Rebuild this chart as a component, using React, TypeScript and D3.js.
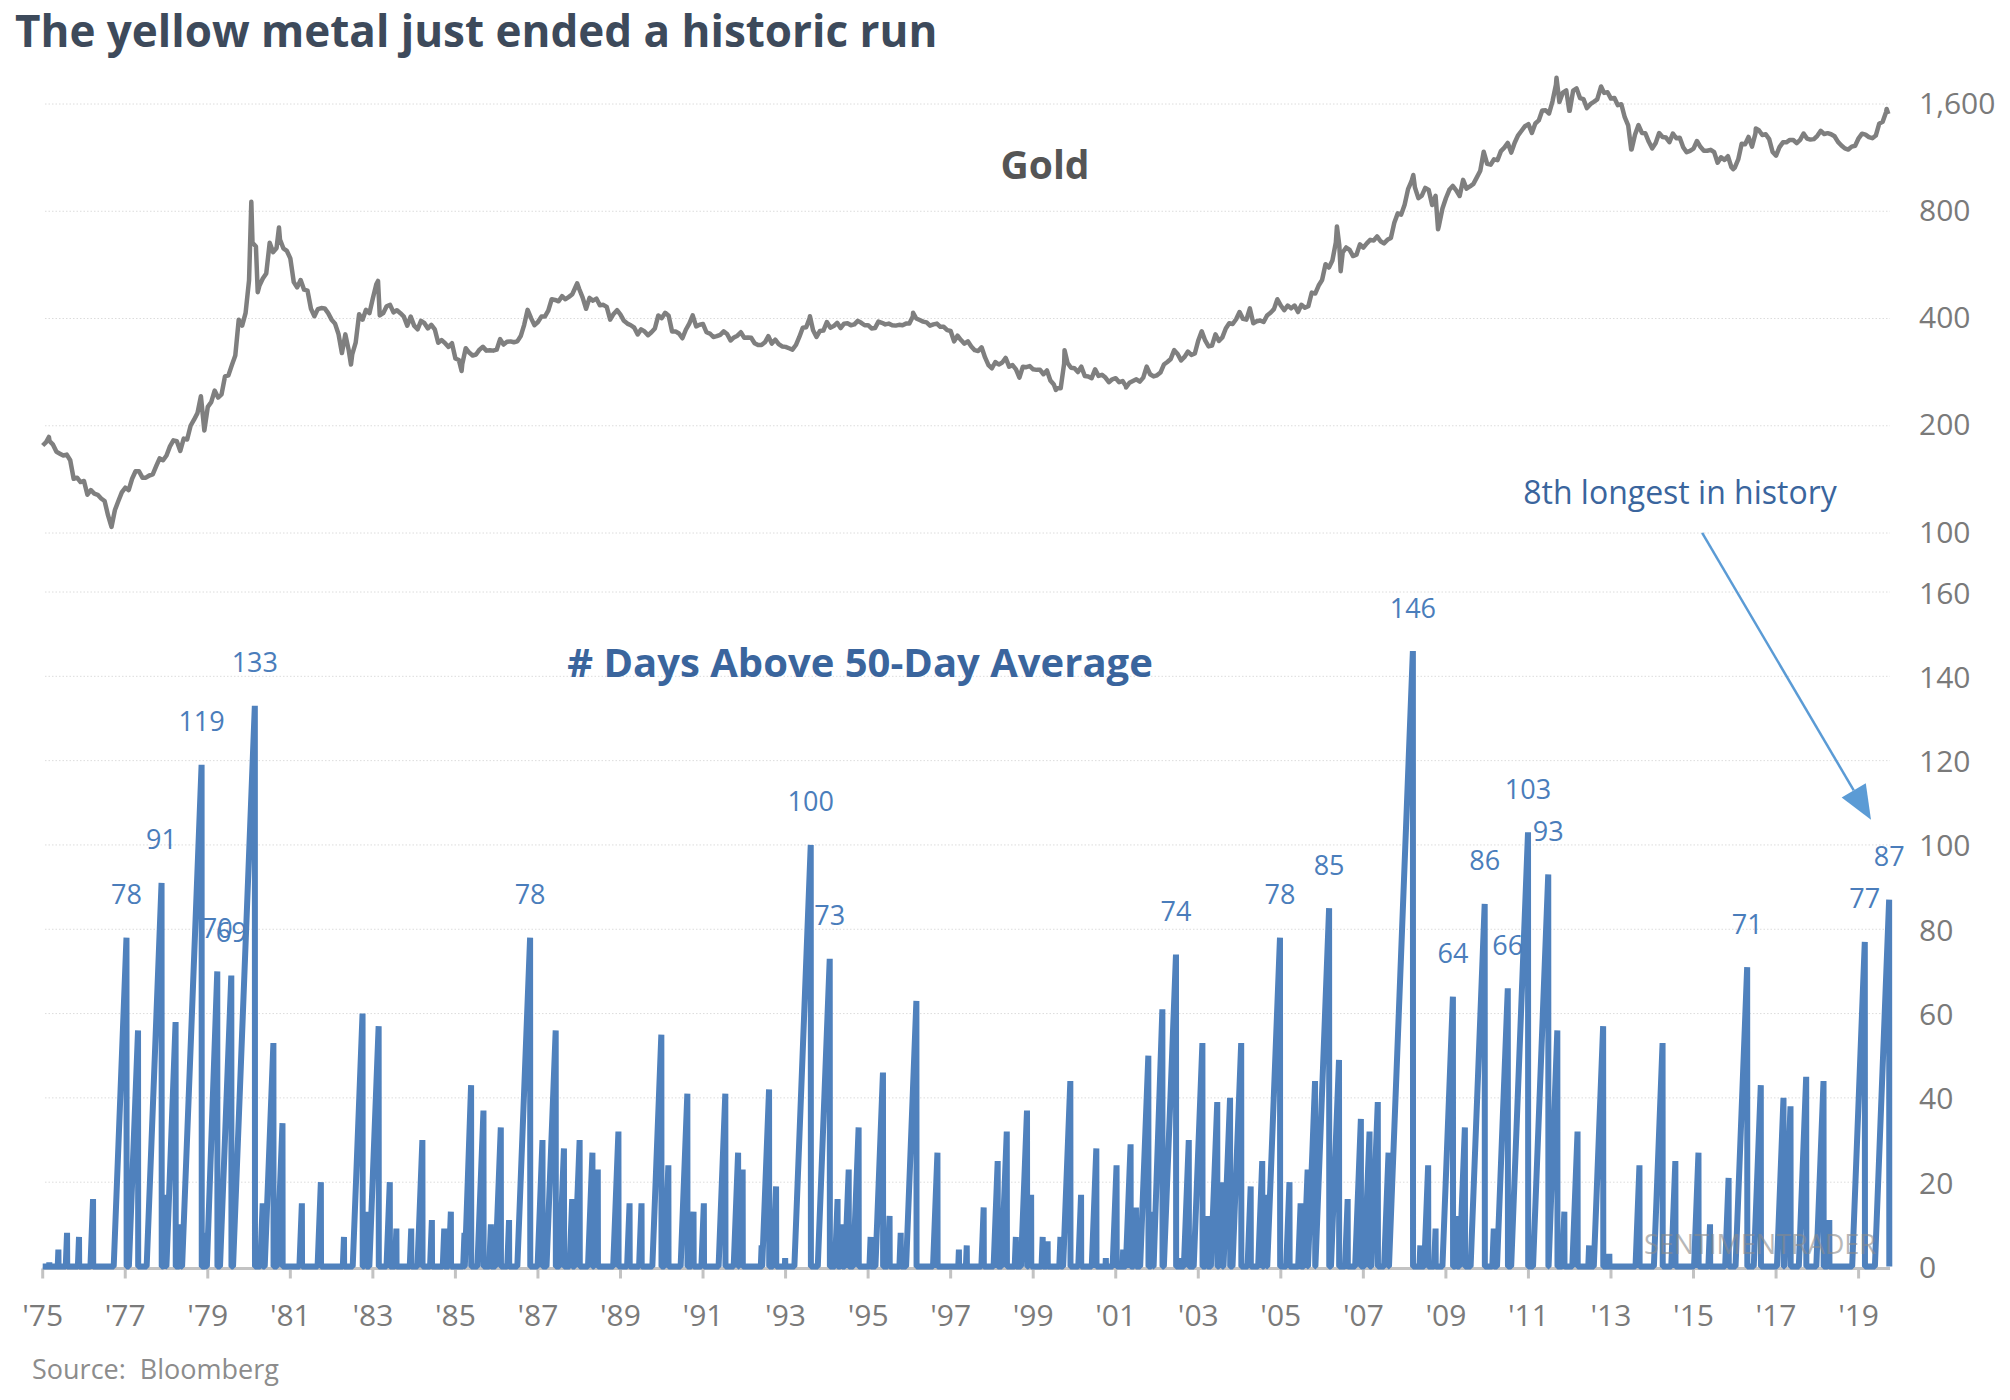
import React from "react";
import * as d3 from "d3";

const W = 2010;
const H = 1400;

// ---------- DATA ----------
const yearTicks = d3.range(1975, 2020, 2);
const goldTicks = [100, 200, 400, 800, 1600];
const daysTicks = [0, 20, 40, 60, 80, 100, 120, 140, 160];

// Gold, month-end values (row = year from 1975)
const goldByYear: number[][] = [
  [180, 181, 177, 169, 167, 165, 166, 160, 142, 143, 139, 140],
  [128, 132, 129, 128, 125, 123, 112, 104, 116, 123, 130, 134],
  [132, 142, 149, 149, 143, 143, 145, 146, 154, 162, 160, 165],
  [175, 182, 181, 170, 184, 183, 200, 208, 217, 242, 194, 226],
  [233, 251, 240, 245, 275, 277, 296, 315, 397, 382, 415, 512],
  [653, 637, 494, 518, 535, 653, 614, 631, 666, 629, 619, 590],
  [506, 489, 513, 482, 479, 426, 406, 425, 428, 427, 414, 397],
  [387, 362, 320, 361, 325, 317, 342, 411, 397, 423, 414, 456],
  [499, 408, 414, 433, 437, 416, 422, 414, 405, 382, 405, 382],
  [373, 394, 388, 375, 384, 373, 342, 348, 341, 333, 341, 309],
  [306, 298, 330, 321, 315, 317, 327, 333, 325, 326, 325, 327],
  [350, 338, 344, 345, 343, 345, 357, 384, 423, 401, 383, 391],
  [405, 405, 421, 453, 451, 447, 462, 453, 460, 468, 492, 484],
  [458, 426, 457, 449, 455, 436, 437, 431, 397, 412, 422, 410],
  [394, 387, 383, 377, 361, 373, 368, 359, 366, 375, 408, 401],
  [415, 407, 368, 368, 363, 352, 372, 387, 408, 380, 384, 386],
  [366, 363, 355, 357, 360, 368, 362, 347, 354, 358, 366, 353],
  [354, 353, 341, 337, 337, 343, 357, 340, 349, 339, 334, 333],
  [330, 327, 337, 355, 377, 378, 401, 371, 355, 369, 370, 391],
  [377, 381, 389, 376, 387, 388, 383, 385, 394, 389, 383, 383],
  [375, 376, 392, 389, 385, 387, 383, 382, 384, 383, 387, 387],
  [405, 400, 396, 392, 390, 382, 385, 387, 379, 379, 371, 369],
  [345, 358, 348, 340, 345, 334, 326, 324, 332, 311, 296, 290],
  [302, 297, 301, 310, 293, 296, 288, 273, 293, 292, 294, 288],
  [287, 287, 279, 286, 268, 261, 255, 255, 299, 300, 291, 290],
  [283, 293, 276, 275, 272, 288, 276, 278, 273, 265, 270, 272],
  [265, 267, 258, 264, 267, 270, 266, 273, 293, 279, 275, 277],
  [282, 297, 302, 308, 326, 318, 305, 312, 323, 316, 319, 347],
  [368, 347, 334, 336, 361, 346, 354, 375, 388, 386, 398, 417],
  [399, 397, 427, 388, 393, 395, 391, 408, 415, 425, 453, 435],
  [422, 435, 427, 435, 417, 437, 429, 433, 473, 470, 495, 513],
  [568, 556, 582, 654, 643, 613, 633, 623, 599, 604, 646, 632],
  [650, 665, 662, 680, 659, 650, 665, 673, 743, 789, 783, 834],
  [923, 971, 933, 871, 885, 930, 918, 833, 884, 730, 814, 870],
  [919, 942, 916, 883, 980, 926, 939, 955, 996, 1040, 1175, 1087],
  [1081, 1119, 1113, 1180, 1207, 1244, 1169, 1246, 1307, 1346, 1386, 1405],
  [1327, 1411, 1439, 1535, 1536, 1505, 1628, 1813, 1620, 1722, 1746, 1531],
  [1744, 1770, 1662, 1651, 1558, 1598, 1622, 1648, 1776, 1719, 1726, 1657],
  [1664, 1588, 1598, 1469, 1394, 1192, 1314, 1396, 1327, 1324, 1253, 1201],
  [1244, 1326, 1292, 1288, 1250, 1322, 1282, 1287, 1210, 1171, 1182, 1199],
  [1260, 1213, 1183, 1183, 1190, 1172, 1095, 1134, 1115, 1142, 1065, 1061],
  [1118, 1238, 1233, 1293, 1215, 1321, 1351, 1309, 1316, 1275, 1173, 1146],
  [1211, 1249, 1249, 1268, 1268, 1242, 1269, 1322, 1280, 1271, 1275, 1303],
  [1345, 1318, 1325, 1316, 1299, 1253, 1224, 1201, 1192, 1215, 1222, 1282],
  [1321, 1313, 1292, 1283, 1305, 1409, 1427, 1520],
];

// Gold: start point and intra-month extremes [year fraction, price]
const goldExtremes: [number, number][] = [
  [1975.0, 176], [1975.15, 186], [1980.055, 850], [1980.21, 474], [1980.725, 720],
  [1982.47, 297], [1983.125, 510], [1985.15, 285], [1987.95, 502],
  [1993.59, 406], [1996.09, 415], [1999.55, 252], [1999.76, 326], [2001.25, 256],
  [2006.36, 725], [2006.45, 543], [2008.21, 1011], [2008.81, 712],
  [2011.68, 1895], [2011.99, 1531], [2012.76, 1792], [2013.49, 1192],
  [2015.96, 1050], [2016.51, 1366], [2019.68, 1550], [2019.72, 1500],
];

// # days above 50-day average: runs as [year of run end, length]
const daysRuns: [number, number][] = [
  [1975.16, 1], [1975.38, 4], [1975.59, 8], [1975.88, 7], [1976.22, 16],
  [1977.31, 56], [1977.99, 17], [1978.22, 58], [1978.35, 10], [1978.97, 8],
  [1980.33, 15], [1980.59, 53], [1980.81, 34], [1981.28, 15], [1981.74, 20],
  [1982.3, 7], [1982.75, 60], [1982.84, 13], [1983.14, 57], [1983.41, 20],
  [1983.57, 9], [1983.93, 9], [1984.2, 30], [1984.43, 11], [1984.73, 9],
  [1984.89, 13], [1985.22, 8], [1985.38, 43], [1985.68, 37], [1985.86, 10],
  [1986.1, 33], [1986.3, 11], [1987.11, 30], [1987.43, 56], [1987.63, 28],
  [1987.83, 16], [1988.01, 30], [1988.32, 27], [1988.45, 23], [1988.95, 32],
  [1989.22, 15], [1989.51, 15], [1989.99, 55], [1990.16, 24], [1990.62, 41],
  [1990.77, 13], [1991.02, 15], [1991.54, 41], [1991.85, 27], [1991.96, 23],
  [1992.42, 5], [1992.6, 42], [1992.77, 19], [1992.99, 2], [1994.26, 16],
  [1994.37, 10], [1994.53, 23], [1994.77, 33], [1995.06, 7], [1995.36, 46],
  [1995.52, 12], [1995.79, 8], [1996.17, 63], [1996.68, 27], [1997.2, 4],
  [1997.39, 5], [1997.8, 14], [1998.14, 25], [1998.36, 32], [1998.58, 7],
  [1998.85, 37], [1998.95, 17], [1999.23, 7], [1999.35, 6], [1999.66, 7],
  [1999.9, 44], [2000.16, 17], [2000.53, 28], [2000.76, 2], [2001.02, 24],
  [2001.18, 4], [2001.36, 29], [2001.49, 14], [2001.79, 50], [2001.91, 13],
  [2002.13, 61], [2002.6, 2], [2002.77, 30], [2003.1, 53], [2003.22, 12],
  [2003.46, 39], [2003.58, 20], [2003.77, 40], [2004.04, 53], [2004.27, 19],
  [2004.55, 25], [2004.66, 17], [2005.21, 20], [2005.48, 15], [2005.65, 23],
  [2005.83, 44], [2006.41, 49], [2006.62, 16], [2006.94, 35], [2007.15, 32],
  [2007.35, 39], [2007.61, 27], [2008.38, 5], [2008.57, 24], [2008.75, 9],
  [2009.27, 12], [2009.46, 33], [2010.16, 9], [2011.7, 56], [2011.87, 13],
  [2012.19, 32], [2012.47, 5], [2012.81, 57], [2012.96, 3], [2013.69, 24],
  [2014.25, 53], [2014.56, 25], [2015.12, 27], [2015.4, 10], [2015.85, 21],
  [2016.63, 43], [2017.18, 40], [2017.35, 38], [2017.73, 45], [2018.15, 44],
  [2018.29, 11],
];

// Labeled runs [year of run end, length]
const labeledRuns: [number, number][] = [
  [1977.03, 78], [1977.88, 91], [1978.85, 119], [1979.23, 70], [1979.57, 69],
  [1980.14, 133], [1986.81, 78], [1993.61, 100], [1994.07, 73], [2002.46, 74],
  [2004.98, 78], [2006.17, 85], [2008.2, 146], [2009.17, 64], [2009.94, 86],
  [2010.5, 66], [2010.99, 103], [2011.48, 93], [2016.3, 71], [2019.15, 77],
  [2019.74, 87],
];

// annotation arrow in data units [year, days]
const arrowFrom: [number, number] = [2015.21, 174];
const arrowTo: [number, number] = [2019.3, 106];

// ---------- SCALES ----------
const xS = d3.scaleLinear().domain([1975, 2019]).range([42.7, 1858.6]);
const gY = d3.scaleLog().domain([100, 1600]).range([533, 104]);
const dY = d3.scaleLinear().domain([0, 160]).range([1266.5, 592]);
const gridX0 = 45;
const gridX1 = 1890;

const FONT = "'Open Sans', 'Noto Sans', sans-serif";

function buildGold(): [number, number][] {
  const pts: [number, number][] = [];
  goldByYear.forEach((row, i) => {
    row.forEach((v, m) => pts.push([1975 + i + (m + 1) / 12, v]));
  });
  goldExtremes.forEach((p) => pts.push(p));
  pts.sort((a, b) => a[0] - b[0]);
  return pts;
}

function buildDays(): [number, number][] {
  const runs = [...daysRuns, ...labeledRuns].sort((a, b) => a[0] - b[0]);
  const pts: [number, number][] = [[1975.0, 0]];
  let prev = 1975.0;
  const eps = 0.004;
  runs.forEach(([end, len]) => {
    const start = Math.max(end - len / 252, prev + eps);
    pts.push([start, 0]);
    pts.push([end, len]);
    pts.push([end + eps, 0]);
    prev = end + eps;
  });
  return pts;
}

export default function App() {
  const gold = buildGold();
  const days = buildDays();
  const goldLine = d3
    .line<[number, number]>()
    .x((d) => xS(d[0]))
    .y((d) => gY(d[1]));
  const daysLine = d3
    .line<[number, number]>()
    .x((d) => xS(d[0]))
    .y((d) => dY(d[1]));

  // arrow geometry
  const ax0 = xS(arrowFrom[0]);
  const ay0 = dY(arrowFrom[1]);
  const ax1 = xS(arrowTo[0]);
  const ay1 = dY(arrowTo[1]);
  const len = Math.hypot(ax1 - ax0, ay1 - ay0);
  const ux = (ax1 - ax0) / len;
  const uy = (ay1 - ay0) / len;
  const headL = 34;
  const headW = 14;
  const bx = ax1 - ux * headL;
  const by = ay1 - uy * headL;
  const head = `${ax1},${ay1} ${bx - uy * headW},${by + ux * headW} ${bx + uy * headW},${by - ux * headW}`;

  const axisY = 1268.5;

  return (
    <svg
      width={W}
      height={H}
      viewBox={`0 0 ${W} ${H}`}
      style={{ position: "absolute", left: 0, top: 0, background: "#fff" }}
      fontFamily={FONT}
    >
      <rect width={W} height={H} fill="#fff" />
      <text x={15} y={47} fontSize={44} fontWeight={700} fill="#3d4a5b">
        The yellow metal just ended a historic run
      </text>

      {/* gridlines */}
      {goldTicks.map((t) => (
        <line key={"gg" + t} x1={gridX0} x2={gridX1} y1={gY(t)} y2={gY(t)} stroke="#dcdcdc" strokeWidth={1} strokeDasharray="1.5 2" />
      ))}
      {daysTicks.filter((t) => t > 0).map((t) => (
        <line key={"dg" + t} x1={gridX0} x2={gridX1} y1={dY(t)} y2={dY(t)} stroke="#dcdcdc" strokeWidth={1} strokeDasharray="1.5 2" />
      ))}

      {/* right axis labels */}
      {goldTicks.map((t) => (
        <text key={"gl" + t} x={1919} y={gY(t) - 2} dominantBaseline="central" fontSize={30} fill="#7a7a7a">
          {d3.format(",")(t)}
        </text>
      ))}
      {daysTicks.map((t) => (
        <text key={"dl" + t} x={1919} y={dY(t)} dominantBaseline="central" fontSize={30} fill="#7a7a7a">
          {t}
        </text>
      ))}

      {/* x axis */}
      <line x1={xS(1975)} x2={gridX1} y1={axisY} y2={axisY} stroke="#c3c3c3" strokeWidth={3} />
      {yearTicks.map((yr) => (
        <g key={"xt" + yr}>
          <line x1={xS(yr)} x2={xS(yr)} y1={axisY} y2={axisY + 10} stroke="#c3c3c3" strokeWidth={3} />
          <text x={xS(yr)} y={1314} textAnchor="middle" dominantBaseline="central" fontSize={30} fill="#7a7a7a">
            {"'" + String(yr).slice(2)}
          </text>
        </g>
      ))}

      {/* gold */}
      <path d={goldLine(gold) || ""} fill="none" stroke="#7f7f7f" strokeWidth={4.5} strokeLinejoin="round" />
      <text x={1045} y={163} textAnchor="middle" dominantBaseline="central" fontSize={39} fontWeight={700} fill="#555555">
        Gold
      </text>

      {/* days series */}
      <path d={daysLine(days) || ""} fill="none" stroke="#4f81bd" strokeWidth={6} strokeLinejoin="bevel" />
      <text x={860} y={661} textAnchor="middle" dominantBaseline="central" fontSize={40} fontWeight={700} fill="#3a659d">
        # Days Above 50-Day Average
      </text>
      {labeledRuns.map(([yr, v]) => (
        <text key={"lab" + yr} x={xS(yr)} y={dY(v) - 44} textAnchor="middle" dominantBaseline="central" fontSize={27} fill="#4a7dbb">
          {v}
        </text>
      ))}

      {/* annotation */}
      <text x={1680} y={491} textAnchor="middle" dominantBaseline="central" fontSize={32} fill="#3a659d">
        8th longest in history
      </text>
      <line x1={ax0} y1={ay0} x2={bx} y2={by} stroke="#5b9bd5" strokeWidth={2.5} />
      <polygon points={head} fill="#5b9bd5" />

      <text x={1760} y={1243} textAnchor="middle" dominantBaseline="central" fontSize={27} fill="#8a8a8a" opacity={0.6}>
        SENTIMENTRADER
      </text>

      <text x={32} y={1368} dominantBaseline="central" fontSize={27} fill="#8c8c8c" xmlSpace="preserve">
        Source:  Bloomberg
      </text>
    </svg>
  );
}
